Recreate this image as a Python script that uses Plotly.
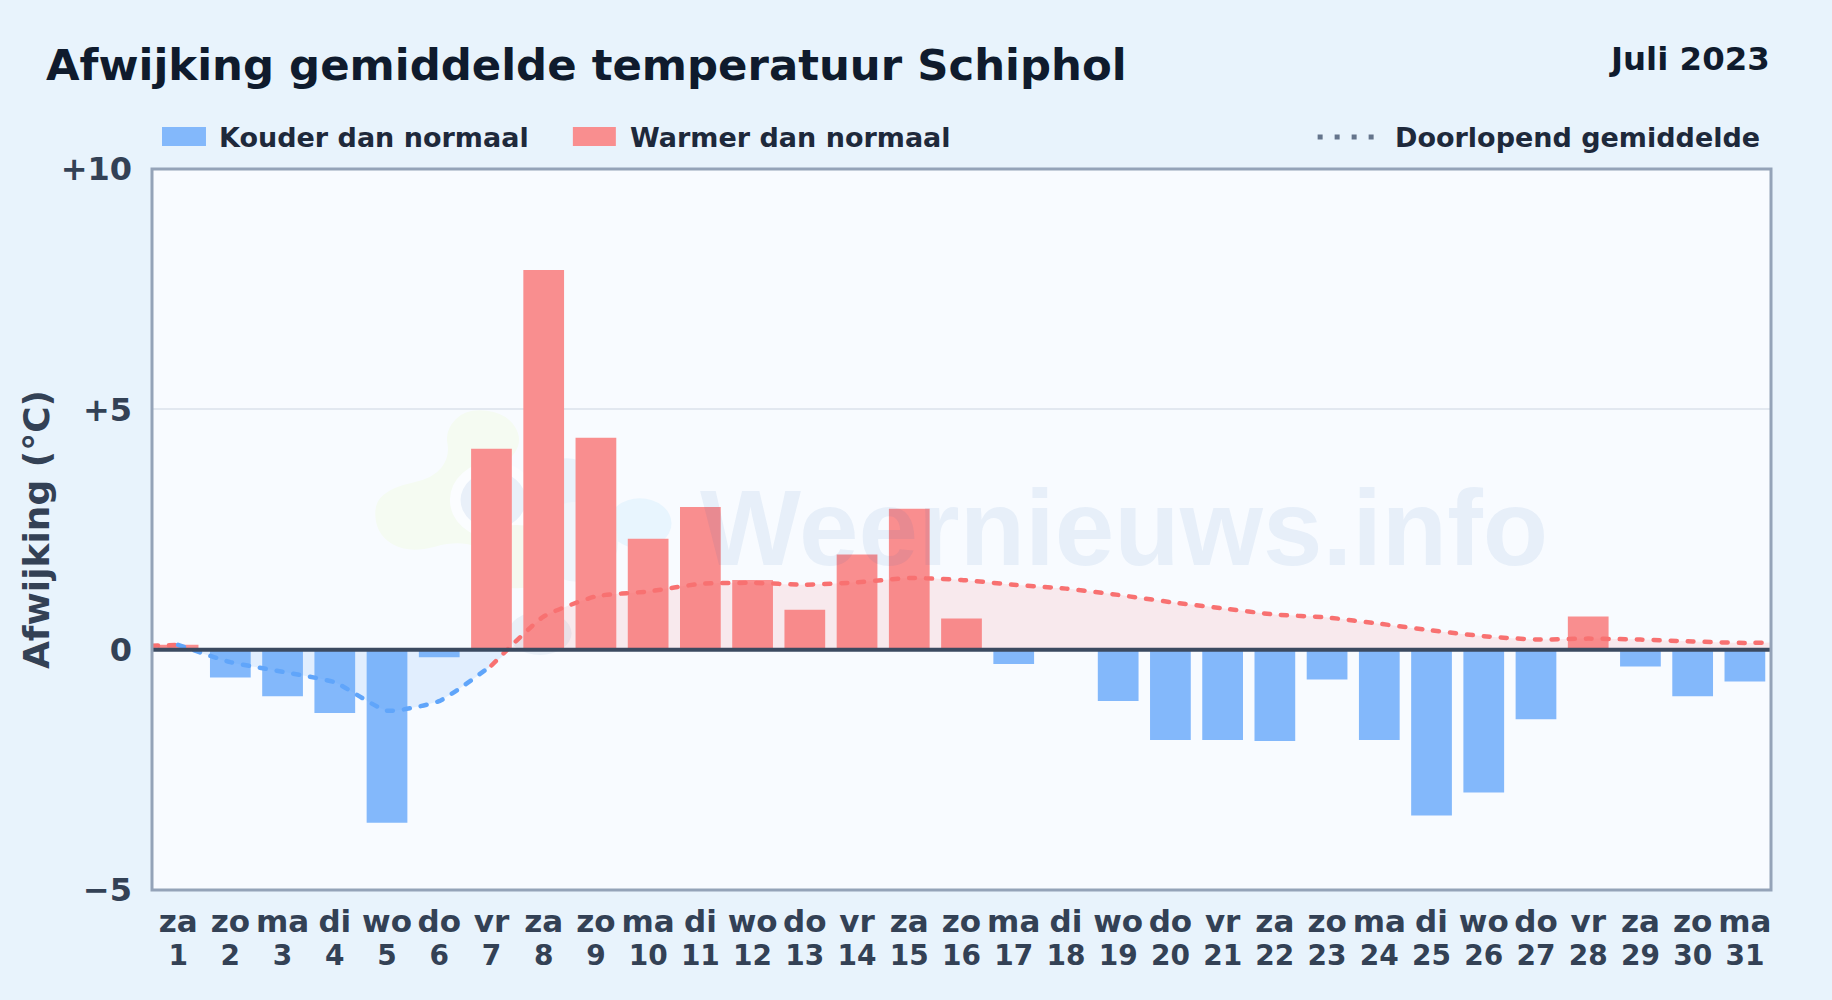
import plotly.graph_objects as go

# ---- data ----
days = list(range(1, 32))
weekdays = ["za","zo","ma","di","wo","do","vr","za","zo","ma","di","wo","do","vr","za","zo",
            "ma","di","wo","do","vr","za","zo","ma","di","wo","do","vr","za","zo","ma"]
afwijking = [0.1,-0.58,-0.97,-1.32,-3.6,-0.16,4.18,7.9,4.41,2.31,2.97,1.45,0.83,1.98,2.93,0.65,
             -0.3,0.0,-1.07,-1.88,-1.88,-1.9,-0.62,-1.88,-3.45,-2.97,-1.45,0.69,-0.35,-0.97,-0.66]
lopend_x = [0.5] + days + [31.5]
lopend = [0.08,0.1,-0.26,-0.46,-0.68,-1.27,-1.07,-0.33,0.69,1.11,1.21,1.37,1.39,1.35,1.4,1.49,1.45,
          1.35,1.27,1.14,0.99,0.86,0.73,0.67,0.54,0.4,0.28,0.21,0.23,0.21,0.17,0.14,0.15]
nulpunten = [1.25, 7.35]
y_ticks = [-5, 0, 5, 10]
y_labels = ["\u22125", "0", "+5", "+10"]

W, H = 1832, 1000
L, R, T, B = 152, 1771.5, 169, 890
FONT = "DejaVu Sans"
BLUE_BAR, RED_BAR = "#83b8fb", "#f98e8f"
BLUE_LINE, RED_LINE = "#60a5fa", "#f87171"
BLUE_FILL, RED_FILL = "rgba(96,165,250,0.15)", "rgba(248,113,113,0.13)"
INK, INK2 = "#0f1b2d", "#334155"

def px(x): return (x - L) / (R - L)
def py(y): return (B - y) / (B - T)

def blob(points):
    n = len(points)
    mids = [((points[i][0] + points[(i + 1) % n][0]) / 2, (points[i][1] + points[(i + 1) % n][1]) / 2) for i in range(n)]
    d = f"M{px(mids[-1][0]):.5f},{py(mids[-1][1]):.5f}"
    for i in range(n):
        d += f" Q{px(points[i][0]):.5f},{py(points[i][1]):.5f} {px(mids[i][0]):.5f},{py(mids[i][1]):.5f}"
    return d + " Z"

def lz(X, Y): return (360 + X / 3, 390 + Y / 3)

fig = go.Figure()
fig.add_bar(x=days, y=[v if v < 0 else None for v in afwijking], width=0.78, marker_color=BLUE_BAR,
            marker_line_width=0, name="Kouder dan normaal", showlegend=False)
fig.add_bar(x=days, y=[v if v >= 0 else None for v in afwijking], width=0.78, marker_color=RED_BAR,
            marker_line_width=0, name="Warmer dan normaal", showlegend=False)

# fills between the running mean and zero
i1 = lopend_x.index(1) + 1
i7 = lopend_x.index(7) + 1
SMOOTH = 0.5
fills = [
    (lopend_x[:i1] + [nulpunten[0]], lopend[:i1] + [0], RED_FILL),
    ([nulpunten[0]] + lopend_x[i1:i7] + [nulpunten[1]], [0] + lopend[i1:i7] + [0], BLUE_FILL),
    ([nulpunten[1]] + lopend_x[i7:], [0] + lopend[i7:], RED_FILL),
]
for fx, fy, col in fills:
    fig.add_scatter(x=fx, y=fy, mode="lines", line=dict(width=0, shape="spline", smoothing=SMOOTH), fill="tozeroy",
                    fillcolor=col, showlegend=False, hoverinfo="skip")

segments = [
    (lopend_x[:i1], lopend[:i1], RED_LINE),
    (lopend_x[i1 - 1:i7], lopend[i1 - 1:i7], BLUE_LINE),
    (lopend_x[i7 - 1:], lopend[i7 - 1:], RED_LINE),
]
for sx, sy, col in segments:
    fig.add_scatter(x=sx, y=sy, mode="lines",
                    line=dict(color=col, width=4.5, shape="spline", smoothing=SMOOTH, dash="6px,11px"),
                    name="Doorlopend gemiddelde", showlegend=False)

# carries the second tick-label row (day numbers)
fig.add_scatter(x=days, y=afwijking, xaxis="x2", mode="markers", marker=dict(opacity=0), showlegend=False, hoverinfo="skip")

shapes = []
# watermark logo
for cx, cy, rx, ry, col in [
    (400, 330, 130, 115, "#fbfdff"), (400, 330, 98, 85, "#e9f0f9"),
    (470, 500, 125, 95, "#f5f8ef"), (620, 280, 92, 75, "#e9f2fb"),
    (840, 400, 95, 75, "#e8f5fe"), (650, 455, 125, 120, "#eff5fb"),
    (540, 730, 95, 65, "#e9f0f8"),
]:
    a, b = lz(cx - rx, cy - ry), lz(cx + rx, cy + ry)
    shapes.append(dict(type="circle", xref="paper", yref="paper", layer="below", line_width=0, fillcolor=col,
                       x0=px(a[0]), x1=px(b[0]), y0=py(a[1]), y1=py(b[1])))
shapes.insert(0, dict(type="path", xref="paper", yref="paper", layer="below", line_width=0, fillcolor="#f5fbf2",
                      path=blob([lz(*p) for p in [(255,120),(320,55),(440,70),(490,150),(440,225),(340,270),(290,340),
                                                  (350,430),(390,490),(300,450),(150,490),(55,440),(40,340),(100,290),
                                                  (220,265),(270,200)]])))
# zero line
shapes.append(dict(type="line", xref="paper", yref="y", x0=0, x1=1, y0=0, y1=0, layer="above",
                   line=dict(color="#3b4a60", width=4)))
# frame
shapes.append(dict(type="rect", xref="paper", yref="paper", x0=0, x1=1, y0=0, y1=1, layer="above",
                   line=dict(color="#94a3b8", width=3)))
# legend
shapes.append(dict(type="rect", xref="paper", yref="paper", x0=px(162), x1=px(206), y0=py(146), y1=py(127),
                   fillcolor=BLUE_BAR, line_width=0))
shapes.append(dict(type="rect", xref="paper", yref="paper", x0=px(573), x1=px(616), y0=py(146), y1=py(127),
                   fillcolor=RED_BAR, line_width=0))
shapes.append(dict(type="line", xref="paper", yref="paper", x0=px(1318), x1=px(1376), y0=py(137), y1=py(137),
                   line=dict(color="#64748b", width=5, dash="5px,12px")))

def note(text, x, y, size, color=INK2, xanchor="left", family=FONT, yanchor="middle"):
    return dict(text=text, xref="paper", yref="paper", x=px(x), y=py(y), xanchor=xanchor, yanchor=yanchor,
                showarrow=False, font=dict(family=family, size=size, color=color, weight="bold"))

annotations = [
    note("Weernieuws.info", 1124.5, 528, 107, color="rgba(30,100,180,0.075)", xanchor="center", family="Liberation Sans"),
    note("Juli 2023", 1773, 59, 32.4, color=INK, xanchor="right"),
    note("Kouder dan normaal", 217, 137, 27, color="#1e293b"),
    note("Warmer dan normaal", 628, 137, 27, color="#1e293b"),
    note("Doorlopend gemiddelde", 1393, 137, 27, color="#1e293b"),
]

fig.update_layout(
    width=W, height=H, autosize=False, barmode="overlay",
    margin=dict(l=L, r=W - R, t=T, b=H - B),
    paper_bgcolor="#e8f3fc", plot_bgcolor="#f8fbff",
    font=dict(family=FONT, color=INK2),
    title=dict(text="Afwijking gemiddelde temperatuur Schiphol", x=46 / W, xanchor="left", xref="container",
               y=1 - 65 / H, yanchor="middle", font=dict(family=FONT, size=43.4, color=INK, weight="bold")),
    shapes=shapes, annotations=annotations, showlegend=False,
    xaxis=dict(range=[0.5, 31.5], tickmode="array", tickvals=days, ticktext=weekdays,
               tickangle=0, tickfont=dict(family=FONT, size=31, color=INK2, weight="bold"),
               showgrid=False, zeroline=False, showline=False, ticks="", ticklabelstandoff=10),
    xaxis2=dict(range=[0.5, 31.5], tickmode="array", tickvals=days, ticktext=[str(d) for d in days],
                overlaying="x", side="bottom", anchor="y", tickangle=0,
                tickfont=dict(family=FONT, size=28, color=INK2, weight="bold"),
                showgrid=False, zeroline=False, showline=False, ticks="", ticklabelstandoff=46),
    yaxis=dict(range=[-5, 10], tickmode="array", tickvals=y_ticks, ticktext=y_labels,
               tickfont=dict(family=FONT, size=32, color=INK2, weight="bold"),
               showgrid=True, gridcolor="#e2e8f0", gridwidth=2, zeroline=False,
               showline=False, ticks="", ticklabelstandoff=19,
               title=dict(text="Afwijking (\u00b0C)", standoff=0, font=dict(family=FONT, size=36, color=INK2, weight="bold"))),
)

post = """
document.body.style.margin='0';
document.body.style.overflow='hidden';
var s=document.createElement('style');
s.textContent='.scatterlayer .js-line{stroke-linecap:round}';
document.head.appendChild(s);
"""
fig.write_html("out.html", post_script=post, config={"displayModeBar": False})
